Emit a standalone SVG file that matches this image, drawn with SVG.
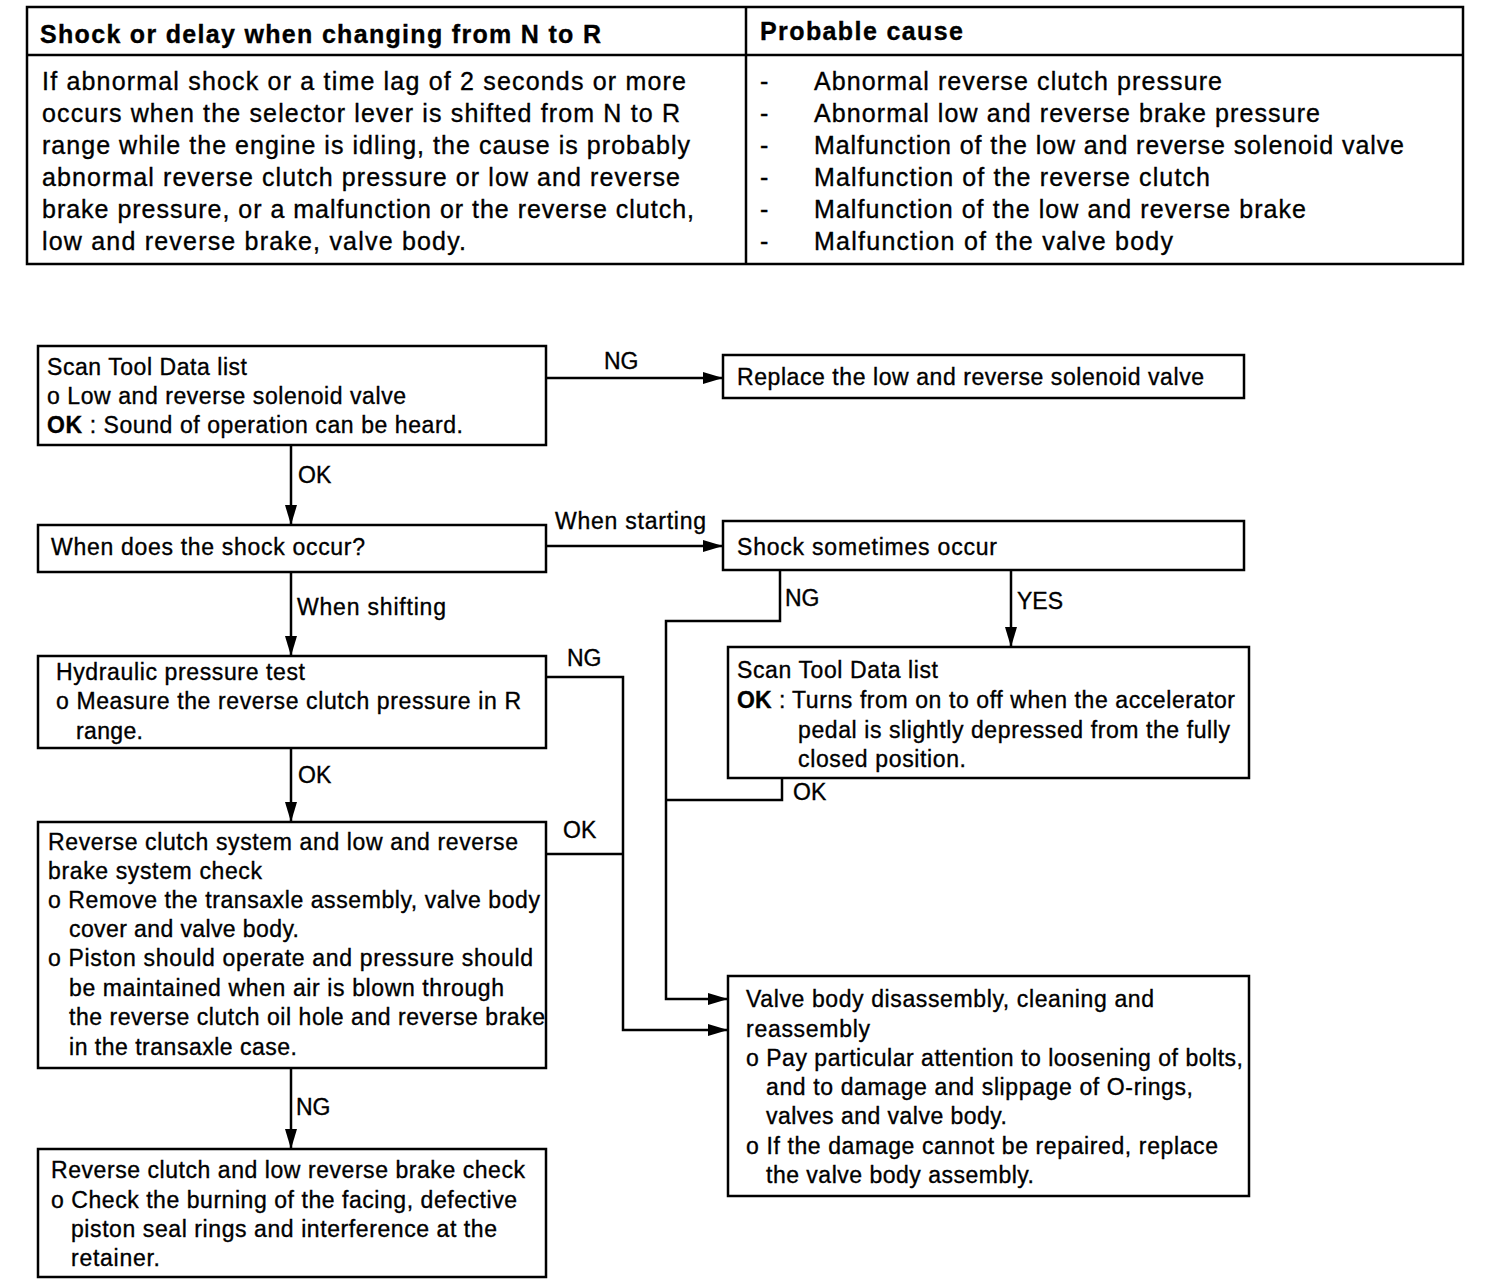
<svg xmlns="http://www.w3.org/2000/svg" width="1504" height="1288" viewBox="0 0 1504 1288">
<style>
text{font-family:"Liberation Sans",Arial,Helvetica,sans-serif;font-size:23px;fill:#000;stroke:#000;stroke-width:0.35}
.t{font-size:25px}
.b{font-weight:bold}
.box{fill:#fff;stroke:#000;stroke-width:2.5}
.ln{fill:none;stroke:#000;stroke-width:2.5}
.cn{fill:none;stroke:#000;stroke-width:2.5;marker-end:url(#ah)}
</style>
<defs>
<marker id="ah" viewBox="0 0 20 12" refX="20" refY="6" markerWidth="20" markerHeight="12" markerUnits="userSpaceOnUse" orient="auto">
<path d="M0,0 L20,6 L0,12 Z" fill="#000"/>
</marker>
</defs>
<rect width="1504" height="1288" fill="#fff"/>

<g id="table">
<rect class="box" x="27" y="7" width="1436" height="257"/>
<line class="ln" x1="27" y1="55" x2="1463" y2="55"/>
<line class="ln" x1="746" y1="7" x2="746" y2="264"/>
<text class="t b" x="40" y="43" textLength="561">Shock or delay when changing from N to R</text>
<text class="t b" x="760" y="40" textLength="203">Probable cause</text>
<text class="t" x="42" y="90" textLength="644">If abnormal shock or a time lag of 2 seconds or more</text>
<text class="t" x="42" y="122" textLength="638">occurs when the selector lever is shifted from N to R</text>
<text class="t" x="42" y="154" textLength="648">range while the engine is idling, the cause is probably</text>
<text class="t" x="42" y="186" textLength="638">abnormal reverse clutch pressure or low and reverse</text>
<text class="t" x="42" y="218" textLength="652">brake pressure, or a malfunction or the reverse clutch,</text>
<text class="t" x="42" y="250" textLength="424">low and reverse brake, valve body.</text>
<text class="t" x="760" y="90">-</text>
<text class="t" x="760" y="122">-</text>
<text class="t" x="760" y="154">-</text>
<text class="t" x="760" y="186">-</text>
<text class="t" x="760" y="218">-</text>
<text class="t" x="760" y="250">-</text>
<text class="t" x="814" y="90" textLength="408">Abnormal reverse clutch pressure</text>
<text class="t" x="814" y="122" textLength="506">Abnormal low and reverse brake pressure</text>
<text class="t" x="814" y="154" textLength="590">Malfunction of the low and reverse solenoid valve</text>
<text class="t" x="814" y="186" textLength="396">Malfunction of the reverse clutch</text>
<text class="t" x="814" y="218" textLength="492">Malfunction of the low and reverse brake</text>
<text class="t" x="814" y="250" textLength="359">Malfunction of the valve body</text>
</g>

<g id="connectors">
<path class="cn" d="M546,378 H723"/>
<path class="cn" d="M291,445 V525"/>
<path class="cn" d="M546,546 H723"/>
<path class="cn" d="M291,572 V656"/>
<path class="cn" d="M780,570 V621 H666 V999 H728"/>
<path class="ln" d="M782,778 V800 H666"/>
<path class="cn" d="M1011,570 V647"/>
<path class="cn" d="M546,677 H623 V1030 H728"/>
<path class="ln" d="M546,854 H623"/>
<path class="cn" d="M291,748 V822"/>
<path class="cn" d="M291,1068 V1149"/>
<text x="604" y="369">NG</text>
<text x="298" y="483">OK</text>
<text x="555" y="529" textLength="151">When starting</text>
<text x="297" y="615" textLength="149">When shifting</text>
<text x="785" y="606">NG</text>
<text x="1017" y="609">YES</text>
<text x="567" y="666">NG</text>
<text x="793" y="800">OK</text>
<text x="298" y="783">OK</text>
<text x="563" y="838">OK</text>
<text x="296" y="1115">NG</text>
</g>

<g id="n1">
<rect class="box" x="38" y="346" width="508" height="99"/>
<text x="47" y="375" textLength="200">Scan Tool Data list</text>
<text x="47" y="404" textLength="359">o Low and reverse solenoid valve</text>
<text x="47" y="433" textLength="416"><tspan class="b">OK</tspan> : Sound of operation can be heard.</text>
</g>

<g id="n2">
<rect class="box" x="723" y="355" width="521" height="43"/>
<text x="737" y="385" textLength="467">Replace the low and reverse solenoid valve</text>
</g>

<g id="n3">
<rect class="box" x="38" y="525" width="508" height="47"/>
<text x="51" y="555" textLength="314">When does the shock occur?</text>
</g>

<g id="n4">
<rect class="box" x="723" y="521" width="521" height="49"/>
<text x="737" y="555" textLength="260">Shock sometimes occur</text>
</g>

<g id="n5">
<rect class="box" x="38" y="656" width="508" height="92"/>
<text x="56" y="680" textLength="249">Hydraulic pressure test</text>
<text x="56" y="709" textLength="465">o Measure the reverse clutch pressure in R</text>
<text x="76" y="739" textLength="67">range.</text>
</g>

<g id="n6">
<rect class="box" x="728" y="647" width="521" height="131"/>
<text x="737" y="678" textLength="201">Scan Tool Data list</text>
<text class="b" x="737" y="708">OK</text>
<text x="779" y="708">:</text>
<text x="792" y="708" textLength="443">Turns from on to off when the accelerator</text>
<text x="798" y="738" textLength="432">pedal is slightly depressed from the fully</text>
<text x="798" y="767" textLength="168">closed position.</text>
</g>

<g id="n7">
<rect class="box" x="38" y="822" width="508" height="246"/>
<text x="48" y="850" textLength="470">Reverse clutch system and low and reverse</text>
<text x="48" y="879" textLength="214">brake system check</text>
<text x="48" y="908" textLength="492">o Remove the transaxle assembly, valve body</text>
<text x="69" y="937" textLength="230">cover and valve body.</text>
<text x="48" y="966" textLength="485">o Piston should operate and pressure should</text>
<text x="69" y="996" textLength="435">be maintained when air is blown through</text>
<text x="69" y="1025" textLength="476">the reverse clutch oil hole and reverse brake</text>
<text x="69" y="1055" textLength="228">in the transaxle case.</text>
</g>

<g id="n8">
<rect class="box" x="728" y="976" width="521" height="220"/>
<text x="746" y="1007" textLength="408">Valve body disassembly, cleaning and</text>
<text x="746" y="1037" textLength="124">reassembly</text>
<text x="746" y="1066" textLength="497">o Pay particular attention to loosening of bolts,</text>
<text x="766" y="1095" textLength="427">and to damage and slippage of O-rings,</text>
<text x="766" y="1124" textLength="241">valves and valve body.</text>
<text x="746" y="1154" textLength="472">o If the damage cannot be repaired, replace</text>
<text x="766" y="1183" textLength="268">the valve body assembly.</text>
</g>

<g id="n9">
<rect class="box" x="38" y="1149" width="508" height="128"/>
<text x="51" y="1178" textLength="474">Reverse clutch and low reverse brake check</text>
<text x="51" y="1208" textLength="466">o Check the burning of the facing, defective</text>
<text x="71" y="1237" textLength="426">piston seal rings and interference at the</text>
<text x="71" y="1266" textLength="89">retainer.</text>
</g>
</svg>
